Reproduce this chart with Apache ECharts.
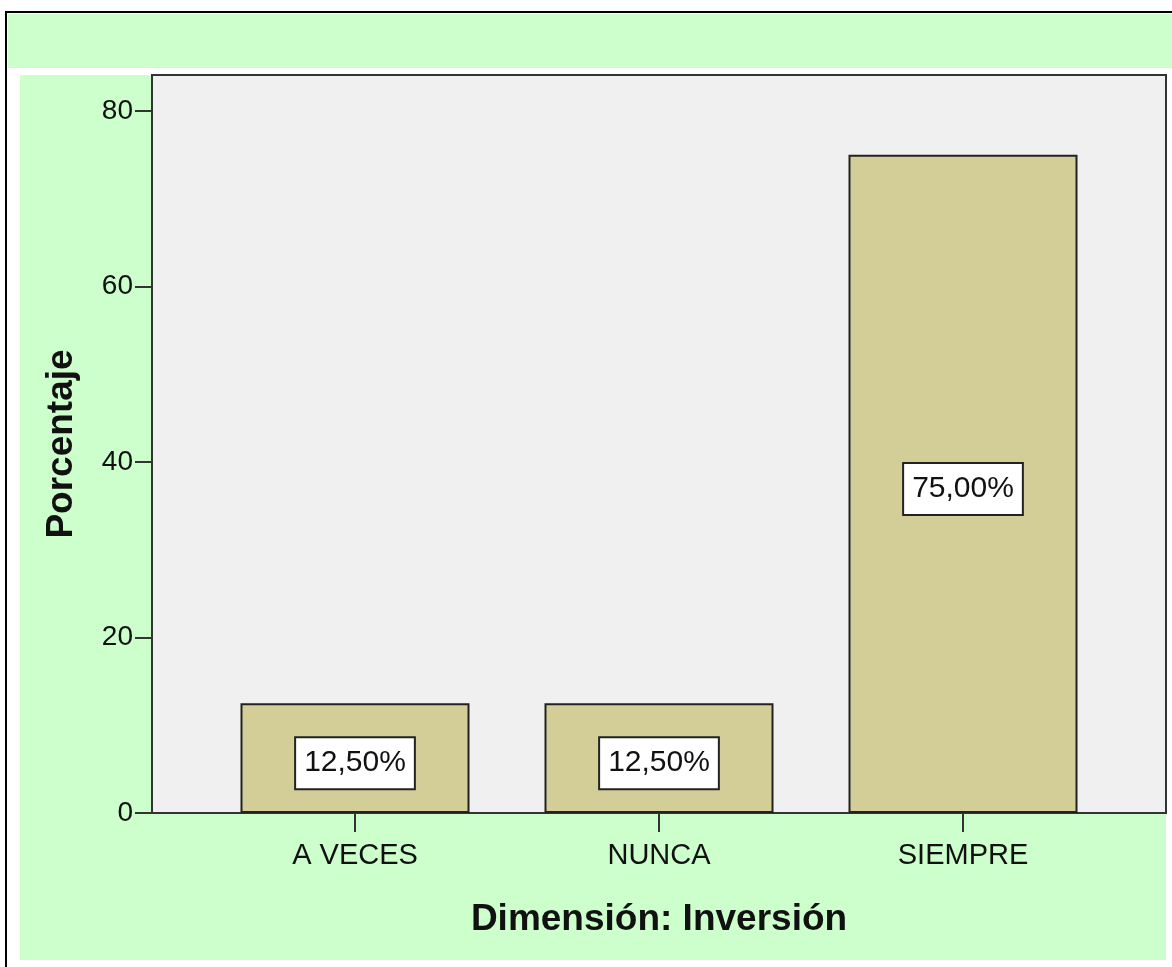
<!DOCTYPE html>
<html>
<head>
<meta charset="utf-8">
<style>
  html, body { margin: 0; padding: 0; background: #ffffff; }
  #chart { width: 1172px; height: 967px; }
</style>
<script src="https://cdn.jsdelivr.net/npm/echarts@6/dist/echarts.min.js"></script>
</head>
<body>
<div id="chart"></div>
<script>
// Categories and percentages for "Dimensión: Inversión"
const categories = ['A VECES', 'NUNCA', 'SIEMPRE'];
const percentages = [12.5, 12.5, 75.0];
const yTicks = [0, 20, 40, 60, 80];

const FONT = "'Liberation Sans', Arial, sans-serif";
const GREEN = '#CCFFCC';
const PLOT_BG = '#F0F0F0';
const BAR = '#D3CE97';
const Y_MAX = 84.1;

const chart = echarts.init(document.getElementById('chart'), null, { renderer: 'canvas' });

const fmtPct = v => v.toFixed(2).replace('.', ',') + '%';

chart.setOption({
  animation: false,
  backgroundColor: '#ffffff',
  graphic: [
    // frame lines and green panels
    { type: 'rect', z: -10, shape: { x: 5, y: 11, width: 1167, height: 2 }, style: { fill: '#000' } },
    { type: 'rect', z: -10, shape: { x: 5, y: 11, width: 2, height: 956 }, style: { fill: '#000' } },
    { type: 'rect', z: -10, shape: { x: 8, y: 14, width: 1164, height: 54 }, style: { fill: GREEN } },
    { type: 'rect', z: -10, shape: { x: 20, y: 75, width: 1146, height: 885 }, style: { fill: GREEN } }
  ],
  grid: [
    // plot frame with the value axis
    { left: 152, top: 75, right: 6, bottom: 154, show: true, backgroundColor: PLOT_BG,
      borderColor: '#333', borderWidth: 2 },
    // inner band that holds the bars
    { left: 203, top: 75, right: 57, bottom: 154, show: false }
  ],
  xAxis: [
    { type: 'value', gridIndex: 0, show: false, min: 0, max: 1 },
    {
      type: 'category', gridIndex: 1, data: categories,
      axisLine: { show: false },
      axisTick: { show: true, alignWithLabel: true, length: 19, lineStyle: { color: '#333', width: 2 } },
      axisLabel: { fontFamily: FONT, fontSize: 29, color: '#111', margin: 28 },
      name: 'Dimensión: Inversión', nameLocation: 'middle', nameGap: 88,
      nameTextStyle: { fontFamily: FONT, fontSize: 37, fontWeight: 'bold', color: '#111' }
    }
  ],
  yAxis: [
    {
      type: 'value', gridIndex: 0, min: 0, max: Y_MAX,
      splitLine: { show: false },
      axisLine: { show: false },
      axisTick: { show: true, length: 17, customValues: yTicks, lineStyle: { color: '#333', width: 2 } },
      axisLabel: { customValues: yTicks, fontFamily: FONT, fontSize: 28, color: '#111', margin: 19,
        padding: [14, 0, 0, 0] },
      name: 'Porcentaje', nameLocation: 'middle', nameRotate: 90, nameGap: 72,
      nameTextStyle: { fontFamily: FONT, fontSize: 37, fontWeight: 'bold', color: '#111' }
    },
    { type: 'value', gridIndex: 1, min: 0, max: Y_MAX, show: false }
  ],
  series: [{
    type: 'bar',
    xAxisIndex: 1, yAxisIndex: 1,
    data: percentages,
    barWidth: 229,
    itemStyle: { color: BAR, borderColor: '#222', borderWidth: 2 },
    label: {
      show: true, position: 'inside', offset: [0, 5],
      formatter: p => fmtPct(p.value),
      fontFamily: FONT, fontSize: 30, color: '#111',
      backgroundColor: '#ffffff', borderColor: '#222', borderWidth: 2,
      padding: [10, 8, 9, 8], lineHeight: 31
    }
  }]
});
</script>
</body>
</html>
